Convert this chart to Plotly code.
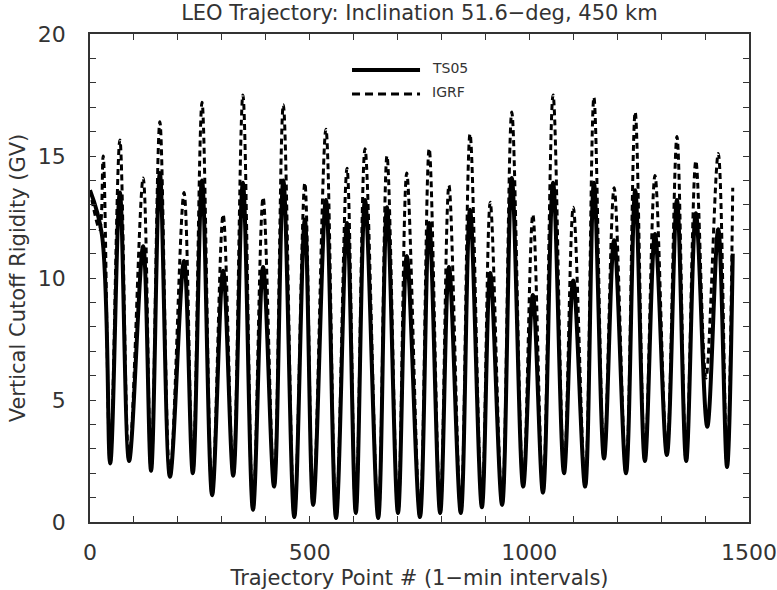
import plotly.graph_objects as go

# --- data (extrema of each oscillation) ---
ts05_x = [0, 27, 46, 68, 89, 121, 139, 159, 182, 214, 234, 255, 278, 303, 326, 348, 371,
          394, 419, 440, 465, 489, 508, 537, 560, 585, 605, 626, 656, 676, 701, 721, 751,
          772, 797, 817, 844, 865, 892, 911, 938, 960, 986, 1008, 1031, 1054, 1079, 1100,
          1127, 1147, 1170, 1193, 1220, 1241, 1263, 1286, 1313, 1336, 1357, 1379, 1405,
          1430, 1450, 1463]
ts05_y = [13.6, 11.8, 2.4, 13.5, 2.5, 11.3, 2.1, 14.3, 1.85, 10.7, 2.0, 14.0, 1.1, 10.3, 1.9,
          13.9, 0.5, 10.45, 1.45, 14.0, 0.2, 12.4, 0.7, 13.2, 0.16, 12.25, 0.37, 13.2, 0.16,
          12.9, 0.37, 10.9, 0.2, 12.25, 0.37, 10.45, 0.37, 12.8, 0.6, 10.2, 0.7, 14.1, 1.45,
          9.3, 1.2, 13.9, 2.0, 9.9, 1.45, 13.9, 2.6, 11.55, 2.0, 13.6, 2.5, 11.8, 2.75, 13.2,
          2.5, 12.65, 3.9, 12.0, 2.25, 11.0]

igrf_x = [0, 22, 30, 46, 68, 89, 121, 139, 159, 182, 214, 234, 255, 278, 303, 326, 348, 371,
          394, 419, 440, 465, 489, 508, 537, 560, 585, 605, 626, 656, 676, 701, 721, 751,
          772, 797, 817, 844, 865, 892, 911, 938, 960, 986, 1008, 1031, 1054, 1079, 1100,
          1127, 1147, 1170, 1193, 1220, 1241, 1263, 1286, 1313, 1336, 1357, 1379, 1402,
          1430, 1450, 1463]
igrf_y = [13.6, 12.0, 15.0, 2.4, 15.66, 2.5, 14.1, 2.1, 16.4, 1.85, 13.5, 2.0, 17.2, 1.1,
          12.6, 1.9, 17.5, 0.5, 13.3, 1.45, 17.1, 0.2, 13.9, 0.7, 16.1, 0.16, 14.5, 0.37,
          15.3, 0.16, 15.0, 0.37, 14.3, 0.2, 15.3, 0.37, 13.8, 0.37, 15.9, 0.6, 13.1, 0.7,
          16.8, 1.45, 12.6, 1.2, 17.5, 2.0, 12.9, 1.45, 17.4, 2.6, 13.7, 2.0, 16.8, 2.5,
          14.2, 2.75, 15.8, 2.5, 14.8, 5.9, 15.1, 2.25, 13.7]

series_names = ["TS05", "IGRF"]
x_tick_vals = [0, 500, 1000, 1500]
y_tick_vals = [0, 5, 10, 15, 20]

FONT = "DejaVu Sans"
TXT = "#333333"

fig = go.Figure()
fig.add_trace(go.Scatter(x=ts05_x, y=ts05_y, mode="lines", name=series_names[0],
                         line=dict(color="black", width=4, shape="spline", smoothing=1.0)))
fig.add_trace(go.Scatter(x=igrf_x, y=igrf_y, mode="lines", name=series_names[1],
                         line=dict(color="black", width=3, dash="6px,4px",
                                   shape="spline", smoothing=1.0)))

axis_common = dict(showline=True, linecolor="#333333", linewidth=1.5, mirror="allticks",
                   ticks="inside", ticklen=6, tickwidth=1, tickcolor="#333333",
                   showgrid=False, zeroline=False, automargin=False,
                   tickfont=dict(family=FONT, size=22, color=TXT))

fig.update_xaxes(range=[0, 1500], tickvals=x_tick_vals, ticktext=[str(v) for v in x_tick_vals],
                 minor=dict(dtick=100, ticks="inside", ticklen=6, tickcolor="#333333"),
                 title=dict(text="Trajectory Point # (1\u2212min intervals)",
                            font=dict(family=FONT, size=21, color=TXT), standoff=7),
                 ticklabelstandoff=10, **axis_common)
fig.update_yaxes(range=[0, 20], tickvals=y_tick_vals, ticktext=[str(v) for v in y_tick_vals],
                 minor=dict(dtick=1, ticks="inside", ticklen=6, tickcolor="#333333"),
                 title=dict(text="Vertical Cutoff Rigidity (GV)",
                            font=dict(family=FONT, size=21, color=TXT), standoff=6),
                 ticklabelstandoff=18, **axis_common)

# legend drawn as in the reference (line samples + labels inside the plot)
fig.add_shape(type="line", xref="paper", yref="paper", x0=0.3976, x1=0.5008, y0=0.926, y1=0.926,
              line=dict(color="black", width=4))
fig.add_shape(type="line", xref="paper", yref="paper", x0=0.3976, x1=0.5008, y0=0.877, y1=0.877,
              line=dict(color="black", width=3, dash="8px,5px"))
fig.add_annotation(xref="paper", yref="paper", x=0.516, y=0.93, text=series_names[0],
                   showarrow=False, xanchor="left", yanchor="middle",
                   font=dict(family=FONT, size=14, color=TXT))
fig.add_annotation(xref="paper", yref="paper", x=0.516, y=0.881, text=series_names[1],
                   showarrow=False, xanchor="left", yanchor="middle",
                   font=dict(family=FONT, size=14, color=TXT))

fig.update_layout(
    width=777, height=590,
    margin=dict(l=90, r=28, t=34, b=68, autoexpand=False),
    paper_bgcolor="white", plot_bgcolor="white",
    showlegend=False,
    title=dict(text="LEO Trajectory: Inclination 51.6\u2212deg, 450 km",
               font=dict(family=FONT, size=21, color=TXT),
               x=0.5398, xanchor="center", y=0.979, yanchor="middle"),
)

fig.write_html("out.html")
